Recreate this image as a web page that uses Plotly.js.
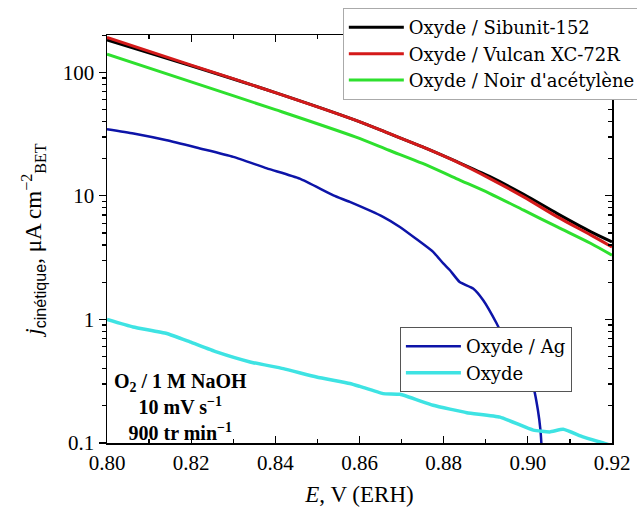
<!DOCTYPE html>
<html><head><meta charset="utf-8">
<script src="https://cdn.plot.ly/plotly-3.0.1.min.js"></script>
<style>body{margin:0;background:#fff}#c{width:637px;height:516px}</style>
</head><body><div id="c"></div>
<script>
// Data
const E_carbon = [0.800, 0.820, 0.840, 0.859, 0.867, 0.875, 0.883, 0.891, 0.899, 0.907, 0.915, 0.920];
const j_sibunit = [182.5, 113, 68.5, 41.0, 32.0, 24.9, 19.0, 14.3, 10.3, 7.19, 5.12, 4.25];
const j_vulcan  = [191.9, 114.5, 68.5, 41.0, 32.0, 24.9, 18.9, 13.8, 9.82, 6.76, 4.81, 3.86];
const j_noir    = [140.3, 83.6, 49.9, 30.0, 23.4, 18.3, 13.8, 10.45, 7.66, 5.61, 4.12, 3.31];
const E_ag = [0.800, 0.8063, 0.8142, 0.8221, 0.830, 0.838, 0.8458, 0.8538, 0.8577, 0.8656, 0.8696, 0.8736, 0.8775, 0.8799, 0.8815, 0.8838, 0.8870, 0.8894, 0.8926, 0.8957, 0.8989, 0.9013, 0.9024, 0.9030, 0.9033];
const j_ag = [34.7, 32.0, 28.2, 24.2, 20.7, 16.7, 13.8, 10.1, 8.93, 6.76, 5.6, 4.45, 3.52, 2.84, 2.5, 2.01, 1.78, 1.43, 0.927, 0.564, 0.388, 0.284, 0.184, 0.127, 0.09];
const E_ox = [0.800, 0.8062, 0.8142, 0.8197, 0.826, 0.834, 0.8419, 0.8498, 0.8577, 0.8601, 0.8656, 0.8696, 0.8775, 0.8855, 0.8934, 0.9013, 0.9052, 0.9084, 0.9131, 0.9179, 0.920];
const j_ox = [1.0, 0.869, 0.769, 0.658, 0.546, 0.453, 0.400, 0.342, 0.303, 0.287, 0.251, 0.248, 0.202, 0.176, 0.162, 0.127, 0.123, 0.129, 0.112, 0.1, 0.095];
const names = ['Oxyde / Sibunit-152', 'Oxyde / Vulcan XC-72R', "Oxyde / Noir d'acétylène", 'Oxyde / Ag', 'Oxyde'];
const colors = ['#000000', '#d41a1a', '#2ee02e', '#0d14a8', '#3ee3e3'];
const yMajorTicks = [0.1, 1, 10, 100];
const yMajorLabels = ['0.1', '1', '10', '100'];
const yMinorTicks = [0.2,0.3,0.4,0.5,0.6,0.7,0.8,0.9,2,3,4,5,6,7,8,9,20,30,40,50,60,70,80,90,200];

const serif = 'Liberation Serif';
const legSerif = 'DejaVu Serif';
const traces = [
  {x: E_carbon, y: j_sibunit, name: names[0], line: {color: colors[0], width: 3, shape: 'spline', smoothing: 0.8}, legend: 'legend'},
  {x: E_carbon, y: j_vulcan, name: names[1], line: {color: colors[1], width: 3, shape: 'spline', smoothing: 0.8}, legend: 'legend'},
  {x: E_carbon, y: j_noir, name: names[2], line: {color: colors[2], width: 3, shape: 'spline', smoothing: 0.8}, legend: 'legend'},
  {x: E_ag, y: j_ag, name: names[3], line: {color: colors[3], width: 2.5, shape: 'spline', smoothing: 0.5}, legend: 'legend2'},
  {x: E_ox, y: j_ox, name: names[4], line: {color: colors[4], width: 3.5, shape: 'spline', smoothing: 0.4}, legend: 'legend2', yaxis: 'y2'}
].map(t => Object.assign({type: 'scatter', mode: 'lines'}, t));

const minorY = side => ({tickmode: 'array', tickvals: yMinorTicks, ticks: side, ticklen: 4, tickwidth: 1.2, tickcolor: '#000', showgrid: false});

const layout = {
  width: 637, height: 516,
  margin: {l: 107, r: 25, t: 35, b: 73, autoexpand: false},
  paper_bgcolor: '#fff', plot_bgcolor: '#fff',
  font: {family: serif, size: 21, color: '#000'},
  showlegend: true,
  xaxis: {
    range: [0.80, 0.92], dtick: 0.02, tick0: 0.80, tickformat: '.2f',
    ticks: 'inside', ticklen: 7, tickwidth: 1.2, tickcolor: '#000',
    showline: true, linecolor: '#000', linewidth: 1.5, mirror: 'ticks',
    showgrid: false, zeroline: false,
    minor: {dtick: 0.01, tick0: 0.80, ticks: 'inside', ticklen: 4, tickwidth: 1.2, tickcolor: '#000', showgrid: false},
    tickfont: {family: serif, size: 21},
    title: {text: '<i>E</i>, V (ERH)', font: {family: serif, size: 23}, standoff: 12}
  },
  yaxis: {
    type: 'log', range: [-1, 2.302], tickmode: 'array', tickvals: yMajorTicks, ticktext: yMajorLabels,
    ticks: 'outside', ticklen: 7, tickwidth: 1.2, tickcolor: '#000',
    showline: true, linecolor: '#000', linewidth: 1.5,
    showgrid: false, zeroline: false,
    minor: minorY('outside'),
    tickfont: {family: serif, size: 21},
    title: {text: '<i>j</i><sub><span style="font-family:Liberation Sans">cinétique</span></sub>, μA cm<sup>−2</sup><sub>BET</sub>', font: {family: serif, size: 23}, standoff: 14}
  },
  yaxis2: {
    type: 'log', range: [-1, 2.302], tickmode: 'array', tickvals: yMajorTicks, overlaying: 'y', side: 'right', anchor: 'x',
    ticks: 'inside', ticklen: 7, tickwidth: 1.2, tickcolor: '#000',
    showline: true, linecolor: '#000', linewidth: 1.5, showticklabels: false,
    showgrid: false, zeroline: false,
    minor: minorY('inside')
  },
  legend: {
    x: 0.467, y: 1.066, xanchor: 'left', yanchor: 'top',
    bgcolor: '#fff', bordercolor: '#aaa', borderwidth: 1,
    font: {family: legSerif, size: 18}, itemwidth: 55, tracegroupgap: 0
  },
  legend2: {
    x: 0.580, y: 0.284, xanchor: 'left', yanchor: 'top',
    bgcolor: '#fff', bordercolor: '#555', borderwidth: 1,
    font: {family: legSerif, size: 18}, itemwidth: 55
  },
  annotations: [{
    xref: 'paper', yref: 'paper', x: 0.1446, y: 0.088, xanchor: 'center', yanchor: 'middle',
    showarrow: false, align: 'center',
    text: '<b>O<sub>2</sub> / 1 M NaOH<br>10 mV s<sup>−1</sup><br>900 tr min<sup>−1</sup></b>',
    font: {family: serif, size: 20, color: '#000'}
  }]
};
Plotly.newPlot('c', traces, layout, {displayModeBar: false, staticPlot: true});
</script></body></html>
